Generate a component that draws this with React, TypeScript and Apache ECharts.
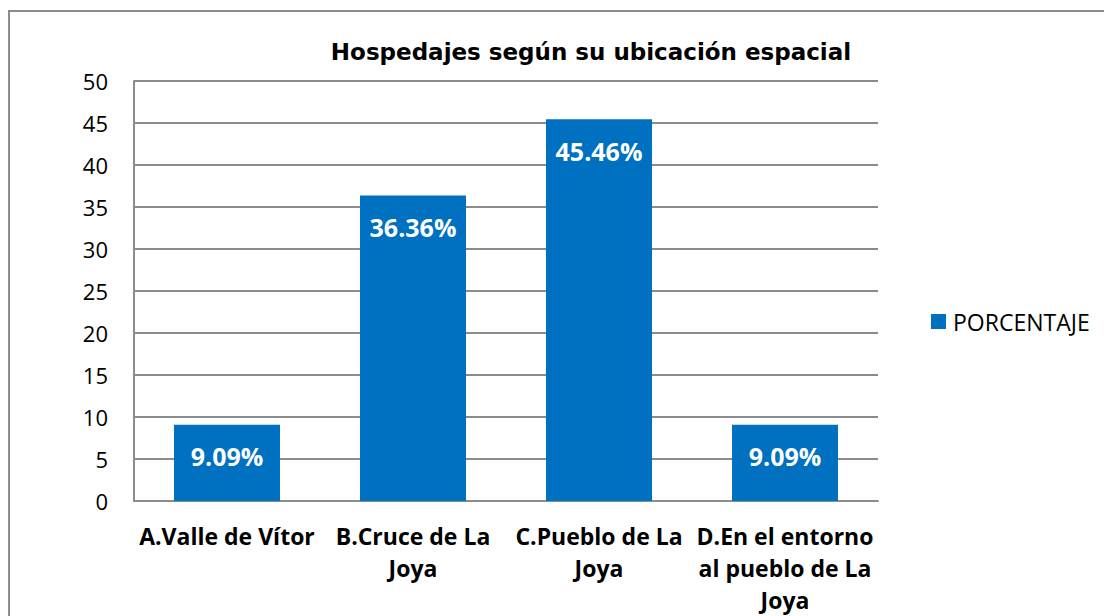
import React, { useEffect, useRef } from "react";
import * as echarts from "echarts";

const TITLE = "Hospedajes según su ubicación espacial";
const SERIES_NAME = "PORCENTAJE";
const categories = [
  "A.Valle de Vítor",
  "B.Cruce de La\nJoya",
  "C.Pueblo de La\nJoya",
  "D.En el entorno\nal pueblo de La\nJoya",
];
const values = [9.09, 36.36, 45.46, 9.09];
const yMin = 0;
const yMax = 50;
const yInterval = 5;

const FONT = "'Open Sans', Lato, sans-serif";

export default function App() {
  const ref = useRef<HTMLDivElement>(null);
  useEffect(() => {
    if (!ref.current) return;
    const chart = echarts.init(ref.current, undefined, { renderer: "svg" });
    chart.setOption({
      animation: false,
      backgroundColor: "#ffffff",
      title: {
        text: TITLE,
        left: 586,
        textAlign: "center",
        top: 35,
        textStyle: {
          fontFamily: "'DejaVu Sans', 'Liberation Sans', sans-serif",
          fontWeight: "bold",
          fontSize: 23,
          color: "#000",
        },
      },
      legend: {
        data: [SERIES_NAME],
        left: 926,
        top: 305,
        icon: "rect",
        itemWidth: 15,
        itemHeight: 15,
        itemGap: 6,
        textStyle: { fontFamily: FONT, fontSize: 23, color: "#000", padding: [0, 0, 0, 2] },
      },
      grid: { left: 134, right: 226, top: 81, bottom: 115, containLabel: false },
      xAxis: {
        type: "category",
        data: categories,
        axisLine: { show: true, lineStyle: { color: "#8c8c8c", width: 2 } },
        axisTick: { show: false },
        axisLabel: {
          interval: 0,
          margin: 19,
          fontFamily: FONT,
          fontWeight: "bold",
          fontSize: 23,
          lineHeight: 32,
          color: "#000",
          align: "center",
        },
      },
      yAxis: {
        type: "value",
        min: yMin,
        max: yMax,
        interval: yInterval,
        axisLine: { show: true, lineStyle: { color: "#8c8c8c", width: 2 } },
        axisTick: { show: false },
        splitLine: { show: true, lineStyle: { color: "#8c8c8c", width: 2 } },
        axisLabel: { margin: 26, fontFamily: FONT, fontSize: 22, color: "#000" },
      },
      series: [
        {
          name: SERIES_NAME,
          type: "bar",
          data: values,
          barWidth: "57%",
          itemStyle: { color: "#0070C0" },
          label: {
            show: true,
            position: "insideTop",
            distance: 19,
            formatter: (p: any) => p.value.toFixed(2) + "%",
            fontFamily: FONT,
            fontWeight: "bold",
            fontSize: 25,
            color: "#ffffff",
          },
        },
      ],
      graphic: [
        {
          type: "rect",
          shape: { x: 9, y: 11, width: 1200, height: 700 },
          style: { fill: "none", stroke: "#8c8c8c", lineWidth: 2 },
          silent: true,
          z: -1,
        },
      ],
    });
    return () => chart.dispose();
  }, []);
  return (
    <div
      ref={ref}
      style={{ position: "fixed", left: 0, top: 0, width: 1104, height: 616 }}
    />
  );
}
